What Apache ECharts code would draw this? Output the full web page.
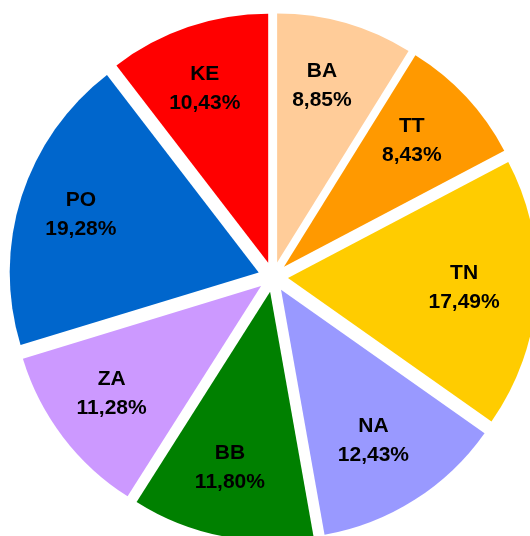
<!DOCTYPE html>
<html>
<head>
<meta charset="utf-8">
<script src="https://cdn.jsdelivr.net/npm/echarts@6/dist/echarts.min.js"></script>
<style>
  html, body { margin: 0; padding: 0; background: #fff; }
  #chart { width: 530px; height: 536px; }
</style>
</head>
<body>
<div id="chart"></div>
<script>
// slices clockwise from 12 o'clock
const names = ['BA', 'TT', 'TN', 'NA', 'BB', 'ZA', 'PO', 'KE'];
const shares = [8.85, 8.43, 17.49, 12.43, 11.80, 11.28, 19.28, 10.43];
const colors = ['#FFCC99', '#FF9900', '#FFCC00', '#9999FF', '#008000', '#CC99FF', '#0066CC', '#FF0000'];

const fmt = p => p.name + '\n' + p.value.toFixed(2).replace('.', ',') + '%';

const chart = echarts.init(document.getElementById('chart'));
chart.setOption({
  animation: false,
  series: [{
    // exploded pie: every slice selected and pushed outward
    type: 'pie',
    center: [273, 277],
    radius: [0, 249],
    startAngle: 90,
    selectedMode: 'multiple',
    selectedOffset: 15,
    data: names.map((n, i) => ({ name: n, value: shares[i], selected: true, itemStyle: { color: colors[i] } })),
    itemStyle: { borderWidth: 0 },
    select: { itemStyle: { borderWidth: 0 } },
    label: { show: false },
    labelLine: { show: false },
    silent: true
  }, {
    // transparent ring only used to place the labels further out
    type: 'pie',
    center: [268, 275],
    radius: [92, 295],
    startAngle: 90,
    minShowLabelAngle: 0,
    avoidLabelOverlap: false,
    data: names.map((n, i) => ({ name: n, value: shares[i] })),
    itemStyle: { color: 'rgba(0,0,0,0)', borderWidth: 0 },
    label: {
      show: true,
      position: 'inside',
      formatter: fmt,
      color: '#000',
      fontFamily: 'Liberation Sans, Arial, sans-serif',
      fontWeight: 'bold',
      fontSize: 21,
      lineHeight: 29
    },
    labelLine: { show: false },
    silent: true,
    z: 5
  }]
});
</script>
</body>
</html>
